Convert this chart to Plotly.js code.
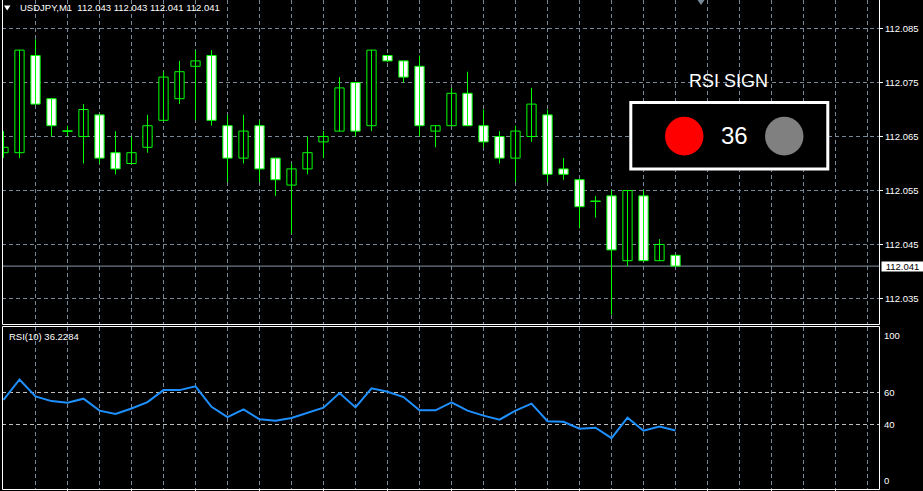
<!DOCTYPE html>
<html><head><meta charset="utf-8">
<script src="https://cdn.plot.ly/plotly-3.0.1.min.js"></script>
<style>html,body{margin:0;padding:0;background:#000;overflow:hidden}#chart{width:923px;height:491px}</style>
</head><body><div id="chart"></div>
<script>
// ---- data ----
const symbol = 'USDJPY,M1';
const lastOHLC = ['112.043', '112.043', '112.041', '112.041'];
const open  = [112.062,112.062,112.080,112.072,112.066,112.065,112.069,112.062,112.060,112.063,
               112.068,112.072,112.078,112.080,112.067,112.061,112.067,112.061,112.056,112.059,
               112.064,112.066,112.075,112.067,112.080,112.079,112.078,112.066,112.067,112.073,
               112.067,112.065,112.061,112.065,112.069,112.059,112.057,112.053,112.054,112.042,
               112.054,112.042,112.043];
const high  = [112.066,112.081,112.083,112.072,112.067,112.071,112.069,112.066,112.065,112.069,
               112.077,112.079,112.081,112.081,112.069,112.069,112.068,112.061,112.060,112.065,
               112.066,112.076,112.075,112.081,112.080,112.079,112.080,112.067,112.074,112.077,
               112.070,112.066,112.067,112.074,112.070,112.061,112.057,112.054,112.055,112.055,
               112.055,112.046,112.043];
const low   = [112.061,112.061,112.071,112.065,112.065,112.060,112.060,112.058,112.060,112.062,
               112.068,112.071,112.068,112.067,112.0565,112.060,112.0565,112.054,112.047,112.058,
               112.061,112.066,112.065,112.066,112.0788,112.075,112.065,112.063,112.067,112.067,
               112.063,112.060,112.0565,112.064,112.0565,112.057,112.048,112.050,112.032,112.041,
               112.042,112.042,112.041];
const close = [112.063,112.081,112.071,112.067,112.066,112.070,112.061,112.059,112.062,112.067,
               112.076,112.077,112.079,112.068,112.061,112.066,112.059,112.057,112.059,112.062,
               112.065,112.074,112.066,112.081,112.079,112.076,112.067,112.067,112.073,112.067,
               112.064,112.061,112.066,112.071,112.058,112.058,112.052,112.053,112.044,112.055,
               112.042,112.045,112.041];
const rsi   = [55.1,67.8,57.3,54.4,53.4,55.9,48.5,46.4,49.8,53.8,
               61.2,61.2,63.5,50.9,44.5,49.3,43.1,42.3,43.9,47.0,
               50.3,59.4,50.5,62.3,60.2,56.9,48.7,48.7,53.6,48.5,
               45.4,42.9,48.5,52.8,41.9,41.6,37.3,37.9,31.5,44.1,
               36.1,38.6,36.2284];
const rsiPeriod = 10;
const priceTicks = [112.035,112.045,112.055,112.065,112.075,112.085];
const rsiLevels = [40, 60];
const rsiLabels = [100, 60, 40, 0];
const signValue = 36;

// ---- geometry helpers ----
const W = 923, H = 491, ML = 2, MR = 44, MT = 0, MB = 2;
const PW = W - ML - MR, PH = H - MT - MB;
const px2x = p => (p - ML) / PW;
const py2y = p => 1 - (p - MT) / PH;
const FONT = 'Liberation Sans, Arial, sans-serif';

const idx = open.map((_, i) => i);
const xRange = [-0.09375, -0.09375 + PW / 16];
const topDomain = [py2y(324.5), 1];
const rsiDomain = [0, py2y(327.4)];
const pxPerUnit = 5400;
const yTop = 112.085 + 28.5 / pxPerUnit;
const yRange = [yTop - 324.5 / pxPerUnit, yTop];

// wicks
const wx = [], wy = [];
idx.forEach(i => { wx.push(i, i, null); wy.push(high[i], low[i], null); });
// doji bars (open == close)
const dx = [], dy = [];
idx.forEach(i => { if (Math.abs(open[i] - close[i]) < 1e-9) { dx.push(i - 0.33, i + 0.33, null); dy.push(open[i], open[i], null); } });

const GREEN = '#00FF00';
const GRID = '#778899';
const DASH = '4px,3px';

const traces = [
  {type:'scatter', mode:'lines', x:wx, y:wy, xaxis:'x', yaxis:'y', line:{color:GREEN, width:1}, hoverinfo:'skip'},
  {type:'scatter', mode:'lines', x:dx, y:dy, xaxis:'x', yaxis:'y', line:{color:GREEN, width:1}, hoverinfo:'skip'},
  {type:'bar', x:idx, base:idx.map(i => Math.min(open[i], close[i])),
   y:idx.map(i => Math.abs(close[i] - open[i])), width:0.58, xaxis:'x', yaxis:'y',
   marker:{color:idx.map(i => close[i] > open[i] ? '#000000' : '#FFFFFF'), line:{color:GREEN, width:1}},
   hoverinfo:'skip'},
  {type:'scatter', mode:'lines', x:idx, y:rsi, xaxis:'x2', yaxis:'y2', line:{color:'#1E90FF', width:2}, hoverinfo:'skip'}
];

const evens = [], fours = [], minorVals = [];
for (let v = 2; v <= 54; v += 2) { evens.push(v); if (v % 4 === 0) fours.push(v); else minorVals.push(v); }

const shapes = [
  // current price line
  {type:'line', xref:'paper', yref:'y', x0:0, x1:1, y0:close[close.length-1], y1:close[close.length-1], line:{color:'#8899AA', width:1}, layer:'below'},
  // panel frames
  {type:'line', xref:'paper', yref:'paper', x0:px2x(2.5), x1:px2x(2.5), y0:py2y(0), y1:py2y(324.5), line:{color:'#fff', width:1}},
  {type:'line', xref:'paper', yref:'paper', x0:px2x(879.5), x1:px2x(879.5), y0:py2y(0), y1:py2y(324.5), line:{color:'#fff', width:1}},
  {type:'line', xref:'paper', yref:'paper', x0:px2x(2.5), x1:px2x(879.5), y0:py2y(324.5), y1:py2y(324.5), line:{color:'#fff', width:1}},
  {type:'rect', xref:'paper', yref:'paper', x0:px2x(2.5), x1:px2x(879.5), y0:py2y(326.5), y1:py2y(489.5), line:{color:'#fff', width:1}},
  // header triangle
  {type:'path', xref:'paper', yref:'paper', path:`M ${px2x(4)} ${py2y(5.5)} L ${px2x(10.5)} ${py2y(5.5)} L ${px2x(7.2)} ${py2y(10.5)} Z`, fillcolor:'#fff', line:{width:0}},
  // shift marker
  {type:'path', xref:'paper', yref:'paper', path:`M ${px2x(697.5)} ${py2y(0)} L ${px2x(704.5)} ${py2y(0)} L ${px2x(701)} ${py2y(5)} Z`, fillcolor:GRID, line:{width:0}},
  // RSI SIGN panel
  {type:'rect', xref:'paper', yref:'paper', x0:px2x(630.8), x1:px2x(827.8), y0:py2y(102.4), y1:py2y(169), fillcolor:'#000', line:{color:'#fff', width:3}, layer:'above'},
  {type:'circle', xref:'paper', yref:'paper', x0:px2x(665), x1:px2x(703.5), y0:py2y(116.8), y1:py2y(155.4), fillcolor:'#FF0000', line:{width:0}, layer:'above'},
  {type:'circle', xref:'paper', yref:'paper', x0:px2x(765), x1:px2x(803.5), y0:py2y(116.8), y1:py2y(155.4), fillcolor:'#808080', line:{width:0}, layer:'above'}
];

const annotations = [
  {xref:'paper', yref:'paper', x:px2x(18), y:py2y(7.8), xanchor:'left', yanchor:'middle', showarrow:false,
   text:`${symbol}  ${lastOHLC.join(' ')}`, font:{family:FONT, size:9.5, color:'#fff'}},
  {xref:'paper', yref:'paper', x:px2x(7), y:py2y(336), xanchor:'left', yanchor:'middle', showarrow:false,
   text:`RSI(${rsiPeriod}) ${rsi[rsi.length-1].toFixed(4)}`, font:{family:FONT, size:9.5, color:'#fff'}},
  {xref:'paper', yref:'y', x:1, y:close[close.length-1], xanchor:'left', yanchor:'middle', xshift:2, showarrow:false,
   text:close[close.length-1].toFixed(3), bgcolor:'#fff', font:{family:FONT, size:9.5, color:'#000'}, width:41, height:9, borderpad:0},
  {xref:'paper', yref:'paper', x:px2x(728.5), y:py2y(81.5), xanchor:'center', yanchor:'middle', showarrow:false,
   text:'RSI SIGN', font:{family:FONT, size:18, color:'#fff'}},
  {xref:'paper', yref:'paper', x:px2x(734.3), y:py2y(135.5), xanchor:'center', yanchor:'middle', showarrow:false,
   text:String(signValue), font:{family:FONT, size:24, color:'#fff'}}
];
rsiLabels.forEach(v => {
  annotations.push({xref:'paper', yref:'y2', x:1, y:v, xshift:3, showarrow:false, xanchor:'left',
    yanchor: v === 100 ? 'top' : (v === 0 ? 'bottom' : 'middle'), yshift: v === 100 ? -1 : (v === 0 ? 1 : 0),
    text:String(v), font:{family:FONT, size:9.5, color:'#fff'}});
});

const layout = {
  width:W, height:H, margin:{l:ML, r:MR, t:MT, b:MB, pad:0},
  paper_bgcolor:'#000', plot_bgcolor:'#000', showlegend:false, barmode:'overlay',
  font:{family:FONT, size:9.5, color:'#fff'},
  xaxis:{domain:[0,1], anchor:'y', range:xRange, tickmode:'array', tickvals:evens, showticklabels:false, ticks:'',
         showgrid:true, gridcolor:GRID, griddash:DASH, gridwidth:1, zeroline:false, showline:false, fixedrange:true},
  xaxis2:{domain:[0,1], anchor:'y2', matches:'x', range:xRange, tickmode:'array', tickvals:fours, showticklabels:false,
          ticks:'outside', ticklen:2, tickwidth:1, tickcolor:'#fff',
          showgrid:true, gridcolor:GRID, griddash:DASH, gridwidth:1, zeroline:false, showline:false,
          minor:{tickmode:'array', tickvals:minorVals, showgrid:true, gridcolor:GRID, griddash:DASH, gridwidth:1, ticks:''}},
  yaxis:{domain:topDomain, anchor:'x', side:'right', range:yRange, tickmode:'array', tickvals:priceTicks,
         ticktext:priceTicks.map(v => v.toFixed(3)), ticks:'outside', ticklen:3, tickwidth:1, tickcolor:'#fff',
         tickfont:{family:FONT, size:9.5, color:'#fff'}, showgrid:true, gridcolor:GRID, griddash:DASH, gridwidth:1,
         zeroline:false, showline:false},
  yaxis2:{domain:rsiDomain, anchor:'x2', side:'right', range:[0,100], tickmode:'array', tickvals:rsiLevels,
          showticklabels:false, ticks:'', showgrid:true, gridcolor:'#BEBEBE', griddash:DASH, gridwidth:1,
          zeroline:false, showline:false},
  shapes:shapes, annotations:annotations
};

Plotly.newPlot('chart', traces, layout, {staticPlot:true, displayModeBar:false});
</script></body></html>
